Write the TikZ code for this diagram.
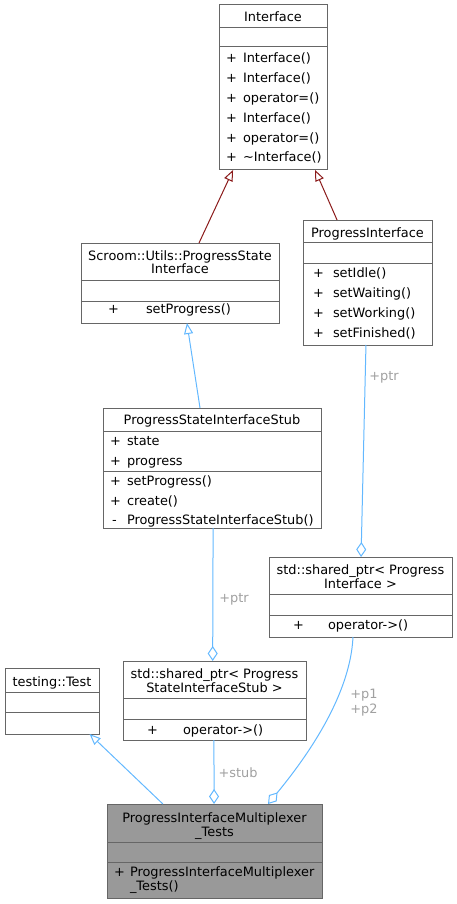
\documentclass[tikz,border=0pt]{standalone}
\usepackage{fontspec}
\setmainfont{DejaVu Sans}
\usetikzlibrary{arrows.meta,calc}
\definecolor{boxline}{HTML}{666666}
\definecolor{inhred}{HTML}{8B1A1A}
\definecolor{relblue}{HTML}{63B8FF}
\definecolor{lblgray}{HTML}{A0A0A0}
\definecolor{focusfill}{HTML}{999999}
\begin{document}
\begin{tikzpicture}[x=1pt,y=-1pt,
  every node/.style={font=\fontsize{12.9}{14}\selectfont, inner sep=0pt, outer sep=0pt},
  cls/.style={draw=boxline, line width=1pt, fill=white, anchor=north west},
  focus/.style={cls, fill=focusfill},
  divider/.style={draw=boxline, line width=1pt},
  ctext/.style={anchor=mid, yshift=-2.5pt},
  ltext/.style={anchor=mid west, yshift=-2.5pt},
  lbl/.style={anchor=mid, yshift=-2.5pt, text=lblgray},
  inhr/.style={draw=inhred, line width=1pt, -{Triangle[open, length=11pt, width=9pt]}},
  inhb/.style={draw=relblue, line width=1pt, -{Triangle[open, length=11pt, width=9pt]}},
  aggb/.style={draw=relblue, line width=1pt, -{Diamond[open, length=15pt, width=10pt]}}
]
\useasboundingbox (0,0) rectangle (457,904);

% ---------- Interface ----------
\node[cls, minimum width=108pt, minimum height=165pt] (iface) at (219,5) {};
\draw[divider] (219,28) -- (327,28);
\draw[divider] (219,47) -- (327,47);
\node[ctext] (ifaceT) at (273,16) {Interface};
\node[ltext] (ifp1) at (226,57) {+};  \node[ltext] (ifm1) at (243,57) {Interface()};
\node[ltext] (ifp2) at (226,77) {+};  \node[ltext] (ifm2) at (243,77) {Interface()};
\node[ltext] (ifp3) at (226,97) {+};  \node[ltext] (ifm3) at (243,97) {operator=()};
\node[ltext] (ifp4) at (226,117) {+}; \node[ltext] (ifm4) at (243,117) {Interface()};
\node[ltext] (ifp5) at (226,137) {+}; \node[ltext] (ifm5) at (243,137) {operator=()};
\node[ltext] (ifp6) at (226,156) {+}; \node[ltext] (ifm6) at (243,156) {\textasciitilde Interface()};

% ---------- Scroom::Utils::ProgressStateInterface ----------
\node[cls, minimum width=198pt, minimum height=80pt] (scroom) at (81,243) {};
\draw[divider] (81,280) -- (279,280);
\draw[divider] (81,301) -- (279,301);
\node[ctext] (scT1) at (180,255) {Scroom::Utils::ProgressState};
\node[ctext] (scT2) at (180,268) {Interface};
\node[ltext] (scp1) at (108,308) {+}; \node[ltext] (scm1) at (146,308) {setProgress()};

% ---------- ProgressInterface ----------
\node[cls, minimum width=129pt, minimum height=125pt] (pi) at (303,220) {};
\draw[divider] (303,242) -- (432,242);
\draw[divider] (303,263) -- (432,263);
\node[ctext] (piT) at (367.5,232) {ProgressInterface};
\node[ltext] (pip1) at (313,272) {+}; \node[ltext] (pim1) at (333,272) {setIdle()};
\node[ltext] (pip2) at (313,292) {+}; \node[ltext] (pim2) at (333,292) {setWaiting()};
\node[ltext] (pip3) at (313,312) {+}; \node[ltext] (pim3) at (333,312) {setWorking()};
\node[ltext] (pip4) at (313,332) {+}; \node[ltext] (pim4) at (333,332) {setFinished()};

% ---------- ProgressStateInterfaceStub ----------
\node[cls, minimum width=218pt, minimum height=120pt] (stub) at (103,408) {};
\draw[divider] (103,431) -- (321,431);
\draw[divider] (103,471) -- (321,471);
\node[ctext] (stT) at (212,419) {ProgressStateInterfaceStub};
\node[ltext] (stp1) at (110,440) {+}; \node[ltext] (sta1) at (127,440) {state};
\node[ltext] (stp2) at (110,460) {+}; \node[ltext] (sta2) at (127,460) {progress};
\node[ltext] (stp3) at (110,480) {+}; \node[ltext] (stm1) at (127,480) {setProgress()};
\node[ltext] (stp4) at (110,500) {+}; \node[ltext] (stm2) at (127,500) {create()};
\node[ltext] (stp5) at (112,519) {-}; \node[ltext] (stm3) at (127,519) {ProgressStateInterfaceStub()};

% ---------- std::shared_ptr< ProgressInterface > ----------
\node[cls, minimum width=183pt, minimum height=80pt] (spi) at (269,557) {};
\draw[divider] (269,594) -- (452,594);
\draw[divider] (269,615) -- (452,615);
\node[ctext] (spiT1) at (360.5,569) {std::shared\_ptr< Progress};
\node[ctext] (spiT2) at (360.5,583) {Interface >};
\node[ltext] (spip1) at (293,624) {+}; \node[ltext] (spim1) at (328,624) {operator->()};

% ---------- std::shared_ptr< ProgressStateInterfaceStub > ----------
\node[cls, minimum width=183pt, minimum height=79pt] (spst) at (123,661) {};
\draw[divider] (123,698) -- (306,698);
\draw[divider] (123,719) -- (306,719);
\node[ctext] (spsT1) at (214.5,673) {std::shared\_ptr< Progress};
\node[ctext] (spsT2) at (214.5,687) {StateInterfaceStub >};
\node[ltext] (spsp1) at (147,729) {+}; \node[ltext] (spsm1) at (183,729) {operator->()};

% ---------- testing::Test ----------
\node[cls, minimum width=94pt, minimum height=66pt] (gtest) at (5,668) {};
\draw[divider] (5,692) -- (99,692);
\draw[divider] (5,712) -- (99,712);
\node[ctext] (gtT) at (52,681) {testing::Test};

% ---------- ProgressInterfaceMultiplexer_Tests ----------
\node[focus, minimum width=215pt, minimum height=94pt] (mux) at (107,804) {};
\draw[divider] (107,842) -- (322,842);
\draw[divider] (107,862) -- (322,862);
\node[ctext] (muxT1) at (214.5,817) {ProgressInterfaceMultiplexer};
\node[ctext] (muxT2) at (214.5,831) {\_Tests};
\node[ltext] (muxp1) at (114,871) {+}; \node[ltext] (muxm1) at (130,871) {ProgressInterfaceMultiplexer};
\node[ltext] (muxm2) at (130,885) {\_Tests()};

% ---------- connectors ----------
\draw[inhr] ($(scroom.north west)!0.596!(scroom.north east)$) -- ($(iface.south west)!0.13!(iface.south east)$);
\draw[inhr] ($(pi.north west)!0.264!(pi.north east)$) -- ($(iface.south west)!0.89!(iface.south east)$);
\draw[inhb] ($(stub.north west)!0.445!(stub.north east)$) -- ($(scroom.south west)!0.535!(scroom.south east)$);
\draw[inhb] ($(mux.north west)!0.26!(mux.north east)$) -- ($(gtest.south west)!0.9!(gtest.south east)$);

\draw[aggb] ($(pi.south west)!0.488!(pi.south east)$) -- ($(spi.north west)!0.503!(spi.north east)$);
\draw[aggb] ($(stub.south west)!0.505!(stub.south east)$) -- ($(spst.north west)!0.49!(spst.north east)$);
\draw[aggb] ($(spst.south west)!0.497!(spst.south east)$) -- ($(mux.north west)!0.498!(mux.north east)$);
\draw[aggb] ($(spi.south west)!0.459!(spi.south east)$) .. controls (350,700) and (300,765) .. ($(mux.north west)!0.749!(mux.north east)$);

\node[lbl] (l1) at (384,375) {+ptr};
\node[lbl] (l2) at (234,597) {+ptr};
\node[lbl] (l3) at (238,772) {+stub};
\node[lbl] (l4) at (364,693) {+p1};
\node[lbl] (l5) at (364,708) {+p2};
\end{tikzpicture}
\end{document}
